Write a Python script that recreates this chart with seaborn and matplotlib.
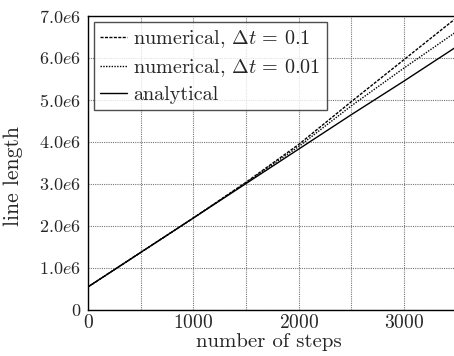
import numpy as np
import pandas as pd
import matplotlib
matplotlib.use("Agg")
import matplotlib.pyplot as plt
import seaborn as sns

steps = [0, 500, 1000, 1500, 2000, 2500, 3000, 3500]
analytical = [0.55e6, 1.37e6, 2.19e6, 3.01e6, 3.83e6, 4.65e6, 5.45e6, 6.27e6]
num_dt01 = [0.55e6, 1.37e6, 2.19e6, 3.04e6, 3.94e6, 4.96e6, 5.96e6, 6.96e6]
num_dt001 = [0.55e6, 1.37e6, 2.19e6, 3.03e6, 3.89e6, 4.86e6, 5.76e6, 6.63e6]

labels = [r"numerical, $\Delta t\, =\, 0.1$", r"numerical, $\Delta t\, =\, 0.01$", "analytical"]

ytick_vals = [0, 1e6, 2e6, 3e6, 4e6, 5e6, 6e6, 7e6]
ytick_labels = ["0", "1.0e6", "2.0e6", "3.0e6", "4.0e6", "5.0e6", "6.0e6", "7.0e6"]
xtick_vals = [0, 1000, 2000, 3000]

sns.set_style("white")
plt.rcParams["font.family"] = ["cmr10", "DejaVu Serif"]
plt.rcParams["mathtext.fontset"] = "cm"
plt.rcParams["axes.formatter.use_mathtext"] = True

fig = plt.figure(figsize=(4.54, 3.56), dpi=100)
ax = fig.add_axes([88 / 454, 1 - 310 / 356, (456.6 - 88) / 454, (310 - 16) / 356])

df = pd.DataFrame({
    "steps": steps * 3,
    "length": num_dt01 + num_dt001 + analytical,
    "series": [labels[0]] * len(steps) + [labels[1]] * len(steps) + [labels[2]] * len(steps),
})

styles = [(0, (2.2, 1.0)), (0, (1.0, 1.0)), "-"]
for lab, ls in zip(labels, styles):
    sub = df[df["series"] == lab]
    sns.lineplot(data=sub, x="steps", y="length", ax=ax, color="black",
                 linewidth=1.0, linestyle=ls, label=lab)

ax.set_xlim(0, 3500)
ax.set_ylim(0, 7e6)
ax.set_xticks(xtick_vals)
ax.set_xticklabels([r"$%d$" % v for v in xtick_vals])
ax.set_xticks([500, 1500, 2500, 3500], minor=True)
ax.set_yticks(ytick_vals)
ax.set_yticklabels([r"$%s$" % t for t in ytick_labels])
ax.grid(True, which="both", color="#777777", linestyle=(0, (1, 1)), linewidth=0.8)
ax.tick_params(direction="in", length=4, width=0.8, pad=3, which="both")
ax.tick_params(axis="x", labelsize=14)
ax.tick_params(axis="y", labelsize=13, pad=5)
for sp in ax.spines.values():
    sp.set_color("black")
    sp.set_linewidth(1.0)
ax.set_xlabel("number of steps", fontsize=15)
ax.set_ylabel("line length", fontsize=15.5)
ax.xaxis.set_label_coords((269 - 88) / 368.6, (310 - 333) / 294)
ax.yaxis.set_label_coords((23 - 88) / 368.6, (310 - 176) / 294)

leg = ax.legend(loc="upper left", fontsize=14.5, frameon=True, fancybox=False,
                edgecolor="#222222", handlelength=1.35, handletextpad=0.3,
                borderaxespad=0.3, borderpad=0.3, labelspacing=0.35)
leg.get_frame().set_linewidth(1.0)

fig.savefig("out.png", dpi=100)
